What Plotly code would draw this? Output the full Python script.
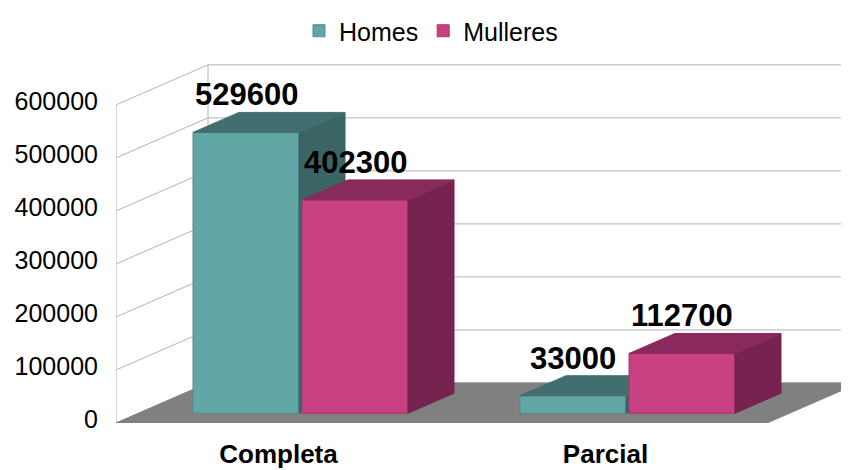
import plotly.graph_objects as go

# ---------------- data ----------------
categories = ["Completa", "Parcial"]
series_names = ["Homes", "Mulleres"]
homes = [529600, 33000]
mulleres = [402300, 112700]
y_ticks = [0, 100000, 200000, 300000, 400000, 500000, 600000]
y_tick_text = [str(v) for v in y_ticks]

# ---------------- geometry (layout parameters) ----------------
OFF = 8                            # page body margin of the browser
W, H = 849 - OFF, 470 - OFF
ML = 116 - OFF
PLOT_H = 423 - OFF
MB = H - PLOT_H
PLOT_W = W - ML
V_PER_PX = 600000 / 326.0          # value units per pixel (front plane)
PX_PER_CAT = 327.0                 # pixels between categories
CAT0_PX = 278.5 - OFF              # x of first category on floor front


def xu(px):
    return px / PX_PER_CAT


def yu(px):
    return px * V_PER_PX


X_LO = xu(ML - CAT0_PX)
X_HI = X_LO + xu(PLOT_W)
Y_LO, Y_HI = 0, yu(PLOT_H)

DX, DY = xu(92), yu(41)            # floor depth
FLOOR_R = xu(767 - OFF - CAT0_PX)  # floor front right edge
FX, FY = xu(22), yu(10)            # bar front-face offset inside floor
BDX, BDY = xu(46), yu(20.5)        # bar depth
BW, GAP = xu(106), xu(3)
LABEL_GAP = yu(18)

colors = {
    "Homes": dict(front="#62a6a6", top="#416f6f", side="#3b6565", edge="#4f8c8c"),
    "Mulleres": dict(front="#c84283", top="#8a2a5c", side="#76234f", edge="#a9346c"),
}

FONT = "Liberation Sans, Arial, sans-serif"

fig = go.Figure()

series = [("Homes", homes, -1, "x", "y"), ("Mulleres", mulleres, 1, "x2", "y2")]

for name, vals, side_sign, xa, ya in series:
    c = colors[name]
    centers = []
    for i, v in enumerate(vals):
        if side_sign < 0:
            x0 = i + FX - GAP / 2 - BW
        else:
            x0 = i + FX + GAP / 2
        x1 = x0 + BW
        centers.append((x0 + x1) / 2)
        base = FY
        top = FY + v
        # side face
        fig.add_trace(go.Scatter(
            x=[x1, x1, x1 + BDX, x1 + BDX, x1],
            y=[base, top, top + BDY, base + BDY, base],
            mode="lines", fill="toself", fillcolor=c["side"],
            line=dict(color=c["side"], width=1), showlegend=False,
            hoverinfo="skip", xaxis=xa, yaxis=ya))
        # top face
        fig.add_trace(go.Scatter(
            x=[x0, x1, x1 + BDX, x0 + BDX, x0],
            y=[top, top, top + BDY, top + BDY, top],
            mode="lines", fill="toself", fillcolor=c["top"],
            line=dict(color=c["top"], width=1), showlegend=False,
            hoverinfo="skip", xaxis=xa, yaxis=ya))
    # front faces as bars
    fig.add_trace(go.Bar(
        x=centers, y=vals, base=[FY] * len(vals), width=BW, name=name,
        marker=dict(color=c["front"], line=dict(color=c["edge"], width=1)),
        xaxis=xa, yaxis=ya, hoverinfo="skip"))
    for cx, v in zip(centers, vals):
        fig.add_annotation(
            x=cx, y=FY + v + BDY + LABEL_GAP, xref="x", yref="y",
            text=f"<b>{v}</b>", showarrow=False, yanchor="middle",
            font=dict(family=FONT, size=31, color="black"))

# ---------------- walls, gridlines, floor ----------------
shapes = []
grid = dict(color="#b3b3b3", width=1)
for v in y_ticks:
    shapes.append(dict(type="line", xref="x", yref="y", layer="below",
                       x0=X_LO, y0=v, x1=X_LO + DX, y1=v + DY, line=grid))
    shapes.append(dict(type="line", xref="x", yref="y", layer="below",
                       x0=X_LO + DX, y0=v + DY, x1=X_HI + 0.1, y1=v + DY, line=grid))
shapes.append(dict(type="line", xref="x", yref="y", layer="below",
                   x0=X_LO, y0=0, x1=X_LO, y1=y_ticks[-1], line=grid))
shapes.append(dict(type="line", xref="x", yref="y", layer="below",
                   x0=X_LO + DX, y0=DY, x1=X_LO + DX, y1=y_ticks[-1] + DY, line=grid))
shapes.append(dict(
    type="path", xref="x", yref="y", layer="below",
    path=f"M{X_LO},0 L{FLOOR_R},0 L{FLOOR_R + DX},{DY} L{X_LO + DX},{DY} Z",
    fillcolor="#808080", line=dict(color="#808080", width=1)))

fig.update_layout(
    width=W, height=H,
    margin=dict(l=ML, r=0, t=0, b=MB, pad=0),
    paper_bgcolor="white", plot_bgcolor="white",
    barmode="overlay",
    shapes=shapes,
    showlegend=True,
    legend=dict(orientation="h", x=(431 - OFF - ML) / PLOT_W, xanchor="center",
                y=1 - (21 - OFF) / PLOT_H, yanchor="middle",
                font=dict(family=FONT, size=25, color="black"),
                bgcolor="rgba(0,0,0,0)"),
    xaxis=dict(range=[X_LO, X_HI], tickvals=list(range(len(categories))),
               ticktext=categories, showgrid=False, zeroline=False,
               showline=False, ticks="", ticklabelstandoff=13,
               tickfont=dict(family=FONT, size=26, color="black", weight="bold"),
               fixedrange=True, automargin=False),
    yaxis=dict(range=[Y_LO, Y_HI], tickvals=y_ticks, ticktext=y_tick_text,
               showgrid=False, zeroline=False, showline=False, ticks="",
               ticklabelstandoff=17, ticklabelshift=-4,
               tickfont=dict(family=FONT, size=25, color="black"),
               fixedrange=True, automargin=False),
    xaxis2=dict(range=[X_LO, X_HI], overlaying="x", visible=False),
    yaxis2=dict(range=[Y_LO, Y_HI], overlaying="y", visible=False),
)

fig.write_html("out.html")
